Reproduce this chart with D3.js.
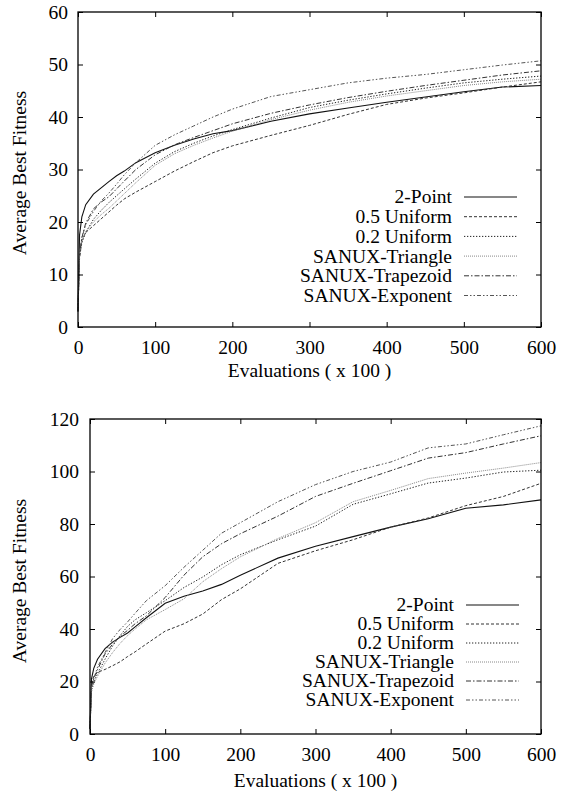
<!DOCTYPE html>
<html>
<head>
<meta charset="utf-8">
<script src="https://cdn.jsdelivr.net/npm/d3@7"></script>
<style>
  html, body { margin: 0; padding: 0; background: #fff; }
</style>
</head>
<body>
<div id="chart"></div>
<script>
var evals = [0, 2, 5, 10, 20, 30, 40, 50, 60, 75, 100, 125, 150, 175, 200, 250, 300, 350, 400, 450, 500, 550, 600];

var seriesNames = ['2-Point', '0.5 Uniform', '0.2 Uniform', 'SANUX-Triangle', 'SANUX-Trapezoid', 'SANUX-Exponent'];

// upper plot
var topTwoPoint   = [3, 17.5, 21, 23.3, 25.3, 26.5, 27.7, 28.8, 29.7, 31.3, 33.2, 34.6, 35.8, 36.8, 37.4, 39.2, 40.6, 41.7, 42.8, 43.8, 44.8, 45.7, 46.0];
var topUniform05  = [3, 13, 16.5, 18, 19.3, 20.6, 21.9, 23.2, 24.4, 25.7, 27.7, 29.7, 31.5, 33.2, 34.5, 36.5, 38.4, 40.5, 42.4, 43.6, 44.6, 45.7, 46.7];
var topUniform02  = [3, 13.5, 16, 18, 20.5, 22.2, 23.7, 25, 26.3, 28.2, 31.2, 33.4, 35, 36.4, 37.6, 39.8, 41.8, 43.2, 44.4, 45.5, 46.5, 47.2, 47.8];
var topTriangle   = [3, 14, 16.3, 18.2, 20, 21.4, 22.6, 24, 25.4, 27.5, 30.8, 33, 34.6, 36, 37.3, 39.5, 41.3, 42.8, 44, 45, 46, 46.7, 47.2];
var topTrapezoid  = [3, 14, 17, 19.8, 22.5, 23.8, 24.8, 26.3, 27.8, 30, 32.8, 34.7, 36.1, 37.4, 38.7, 40.7, 42.3, 43.7, 44.9, 46, 47, 48, 48.8];
var topExponent   = [3, 14, 17, 19.5, 22, 24, 25.5, 27.2, 29, 31.3, 34.6, 36.6, 38.3, 40, 41.5, 43.9, 45.2, 46.5, 47.4, 48.1, 49.0, 49.9, 50.7];

// lower plot
var botTwoPoint   = [2, 21, 25, 28.5, 32.5, 35, 36.8, 38.5, 40.8, 44.3, 49.8, 52.5, 54.5, 57, 60.5, 67, 71.5, 75.2, 78.8, 82, 86, 87.3, 89.2];
var botUniform05  = [2, 19, 22, 23.5, 24.6, 26, 27.5, 29.5, 31.3, 34.3, 39.2, 42, 45.7, 51.2, 55.3, 65, 69.8, 74, 78.8, 82.3, 87, 90.5, 95.5];
var botUniform02  = [2, 17, 20, 23, 28.5, 33.5, 37.5, 41, 43.5, 46.2, 50.8, 55.8, 59.8, 64.5, 68.3, 74, 79.2, 87.5, 91.5, 95.6, 97.5, 99.8, 100.5];
var botTriangle   = [2, 16, 19, 22, 27, 31, 34.5, 37.5, 40, 43.5, 47.4, 51.5, 58, 63, 67.5, 74.5, 80.5, 88.5, 92.8, 97.3, 99.4, 101.3, 103.4];
var botTrapezoid  = [2, 18, 21, 24.5, 30.5, 34.2, 37.2, 39.5, 42, 45, 52, 60.5, 67.5, 72.5, 76.3, 83, 90.5, 95.5, 100.3, 105.1, 107.2, 110.5, 113.6];
var botExponent   = [2, 18, 21, 25.5, 31, 36.3, 39.8, 42.7, 46, 50.8, 56.5, 63.5, 70, 76.5, 80.5, 88.5, 95, 100, 103.6, 109, 110.5, 114, 117.4];

var xTicks = [0, 100, 200, 300, 400, 500, 600];
var topYTicks = [0, 10, 20, 30, 40, 50, 60];
var botYTicks = [0, 20, 40, 60, 80, 100, 120];

var fontFamily = '"Liberation Serif", "Times New Roman", Times, serif';
var fontSize = '19.5px';

// gnuplot-ish line styles, same order as seriesNames
var lineStyles = [
  { stroke: '#111', dash: null, width: 1.1 },
  { stroke: '#333', dash: '3,2', width: 1 },
  { stroke: '#222', dash: '1.3,1.7', width: 1 },
  { stroke: '#888', dash: '1,1', width: 1 },
  { stroke: '#333', dash: '5,2,1.5,2', width: 1 },
  { stroke: '#555', dash: '4,2,1.5,2,1.5,2', width: 1 }
];

var svg = d3.select('#chart')
  .append('svg')
  .attr('width', 563)
  .attr('height', 796);

var drawPlot = function(cfg) {
  var x = d3.scaleLinear().domain([0, 600]).range([cfg.left, cfg.right]);
  var y = d3.scaleLinear().domain([0, cfg.yMax]).range([cfg.bottom, cfg.top]);
  var g = svg.append('g');

  // curves
  var line = d3.line()
    .x(function(d, i) { return x(evals[i]); })
    .y(function(d) { return y(d); });

  cfg.series.forEach(function(values, i) {
    var st = lineStyles[i];
    g.append('path')
      .attr('d', line(values))
      .attr('fill', 'none')
      .attr('stroke', st.stroke)
      .attr('stroke-width', st.width)
      .attr('stroke-dasharray', st.dash);
  });

  // inward ticks on all four sides
  var tickLen = 5;
  g.append('g')
    .attr('transform', 'translate(0,' + cfg.bottom + ')')
    .call(d3.axisBottom(x).tickValues(xTicks).tickSizeInner(-tickLen).tickSizeOuter(0).tickPadding(tickLen + 8))
    .call(function(a) { a.select('.domain').remove(); });
  g.append('g')
    .attr('transform', 'translate(0,' + cfg.top + ')')
    .call(d3.axisTop(x).tickValues(xTicks).tickSizeInner(-tickLen).tickSizeOuter(0).tickFormat(''))
    .call(function(a) { a.select('.domain').remove(); });
  g.append('g')
    .attr('transform', 'translate(' + cfg.left + ',0)')
    .call(d3.axisLeft(y).tickValues(cfg.yTicks).tickSizeInner(-tickLen).tickSizeOuter(0).tickPadding(cfg.yPad))
    .call(function(a) { a.select('.domain').remove(); });
  g.append('g')
    .attr('transform', 'translate(' + cfg.right + ',0)')
    .call(d3.axisRight(y).tickValues(cfg.yTicks).tickSizeInner(-tickLen).tickSizeOuter(0).tickFormat(''))
    .call(function(a) { a.select('.domain').remove(); });

  g.selectAll('.tick line').attr('stroke', '#000').attr('stroke-width', 1);

  // frame
  g.append('rect')
    .attr('x', cfg.left)
    .attr('y', cfg.top)
    .attr('width', cfg.right - cfg.left)
    .attr('height', cfg.bottom - cfg.top)
    .attr('fill', 'none')
    .attr('stroke', '#000')
    .attr('stroke-width', 1.3);

  // axis titles
  g.append('text')
    .attr('x', (cfg.left + cfg.right) / 2)
    .attr('y', cfg.bottom + cfg.xTitleGap)
    .attr('text-anchor', 'middle')
    .text('Evaluations ( x 100 )');
  g.append('text')
    .attr('transform', 'translate(25.5,' + cfg.yTitleMid + ') rotate(-90)')
    .attr('text-anchor', 'middle')
    .text('Average Best Fitness');

  // legend, text right aligned with a line sample
  var legend = g.append('g');
  seriesNames.forEach(function(name, i) {
    var cy = cfg.legendTop + i * cfg.legendStep;
    legend.append('text')
      .attr('x', cfg.legendTextX)
      .attr('y', cy)
      .attr('dy', '0.33em')
      .attr('text-anchor', 'end')
      .text(name);
    var st = lineStyles[i];
    legend.append('line')
      .attr('x1', cfg.legendTextX + 12)
      .attr('x2', cfg.legendTextX + 65)
      .attr('y1', cy)
      .attr('y2', cy)
      .attr('stroke', st.stroke)
      .attr('stroke-width', st.width)
      .attr('stroke-dasharray', st.dash);
  });

  // inline style so the axis defaults do not win
  g.selectAll('text')
    .style('font-family', fontFamily)
    .style('font-size', fontSize)
    .style('fill', '#000');
};

drawPlot({
  left: 78, right: 541, top: 12, bottom: 327,
  yMax: 60, yTicks: topYTicks, yPad: 10,
  series: [topTwoPoint, topUniform05, topUniform02, topTriangle, topTrapezoid, topExponent],
  xTitleGap: 50, yTitleMid: 173,
  legendTop: 197, legendStep: 19.7, legendTextX: 452
});

drawPlot({
  left: 90, right: 541, top: 419, bottom: 734,
  yMax: 120, yTicks: botYTicks, yPad: 11,
  series: [botTwoPoint, botUniform05, botUniform02, botTriangle, botTrapezoid, botExponent],
  xTitleGap: 53, yTitleMid: 581,
  legendTop: 605, legendStep: 19, legendTextX: 454
});
</script>
</body>
</html>
